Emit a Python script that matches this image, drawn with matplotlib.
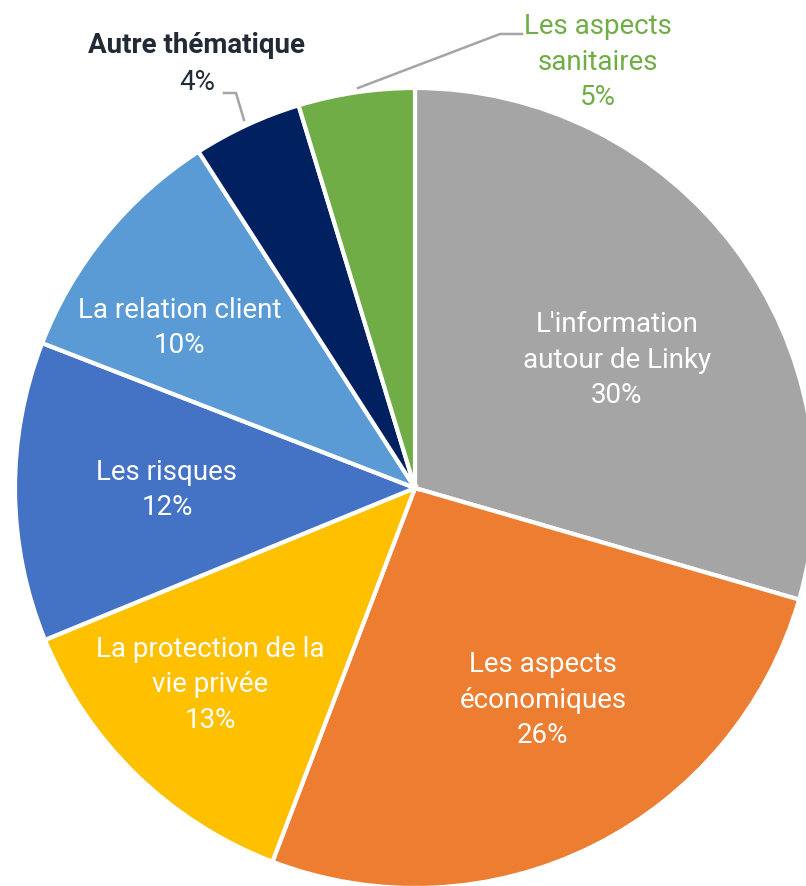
import numpy as np
import matplotlib.pyplot as plt

plt.rcParams['font.family'] = ['Roboto', 'DejaVu Sans']

labels = ["L'information\nautour de Linky", "Les aspects\néconomiques",
          "La protection de la\nvie privée", "Les risques", "La relation client",
          "Autre thématique", "Les aspects\nsanitaires"]
values = [29.5, 26.3, 13.0, 12.1, 10.0, 4.4, 4.7]
shown = ["30%", "26%", "13%", "12%", "10%", "4%", "5%"]
colors = ["#A5A5A5", "#ED7D31", "#FFC000", "#4472C4", "#5B9BD5", "#002060", "#70AD47"]

W, H = 806, 886
cx, cy, R = 415, H - 488, 400

fig = plt.figure(figsize=(W / 100, H / 100), dpi=100)
ax = fig.add_axes([0, 0, 1, 1])

wedges, _ = ax.pie(values, colors=colors, startangle=90, counterclock=False,
                   center=(cx, cy), radius=R, frame=True,
                   wedgeprops=dict(edgecolor='white', linewidth=3))
ax.set_xlim(0, W)
ax.set_ylim(0, H)
ax.set_aspect('equal')
ax.axis('off')

# label offsets from pie centre (pixels)
offsets = [(202, 128), (128, -212), (-205, -197), (-248, -2), (-235, 160)]
txt = dict(fontsize=20, ha='center', va='center', linespacing=1.4)
for i, (dx, dy) in enumerate(offsets):
    ax.text(cx + dx, cy + dy, labels[i] + "\n" + shown[i], color='white', **txt)

# outside labels with leader lines
ax.text(197, H - 45, labels[5], color='#222A35', fontweight='bold', **txt)
ax.text(197, H - 82, shown[5], color='#222A35', **txt)
ax.plot([224, 236, 244], [H - 93, H - 93, H - 120], color='#A5A5A5', lw=1.8)

ax.text(598, H - 62, labels[6] + "\n" + shown[6], color='#70AD47', **txt)
ax.plot([522, 500, 358], [H - 34, H - 34, H - 88], color='#A5A5A5', lw=1.8)

fig.savefig('out.png', dpi=100, facecolor='white')
